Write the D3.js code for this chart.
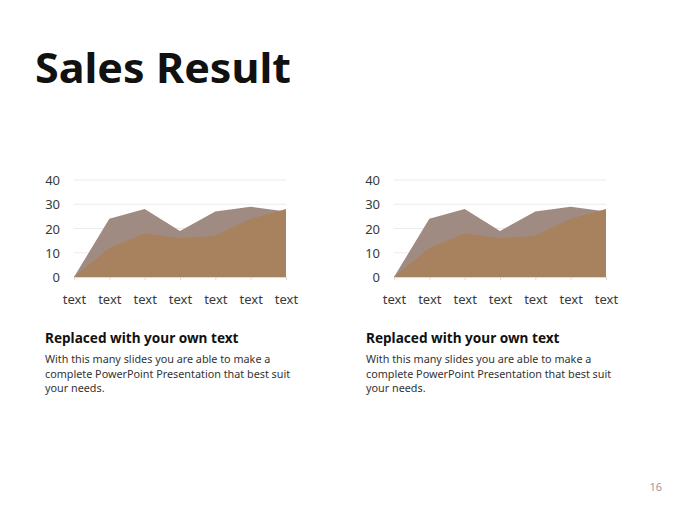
<!DOCTYPE html>
<html>
<head>
<meta charset="utf-8">
<script src="https://cdn.jsdelivr.net/npm/d3@7/dist/d3.min.js"></script>
<title>Sales Result</title>
<style>
    body { margin: 0; background: #fff; font-family: "Noto Sans", "Open Sans", sans-serif; }
    svg { display: block; }
    .axis text { font-family: "Noto Sans", sans-serif; font-size: 13px; fill: #3a3a3a; }
</style>
</head>
<body>
<svg width="680" height="510"></svg>
<script>
    const categories = ["text", "text", "text", "text", "text", "text", "text"];
    const seriesBack = [0, 24, 28, 19, 27, 29, 27];
    const seriesFront = [0, 12, 18, 16, 17, 24, 28];
    const yTicks = [0, 10, 20, 30, 40];

    const svg = d3.select("svg");
    const w = 212;
    const h = 97;

    svg.append("text")
        .attr("x", 35).attr("y", 83)
        .attr("font-size", 42).attr("font-weight", 700)
        .attr("textLength", 256).attr("lengthAdjust", "spacingAndGlyphs")
        .attr("fill", "#111")
        .text("Sales Result");

    const x = d3.scalePoint().domain(d3.range(categories.length)).range([0, w]);
    const y = d3.scaleLinear().domain([0, 40]).range([h, 0]);

    const area = d3.area()
        .x((d, i) => x(i))
        .y0(h)
        .y1(d => y(d));

    function drawChart(left, top, textLeft) {
        const g = svg.append("g").attr("transform", `translate(${left},${top})`);

        // grid
        g.selectAll("line.grid").data(yTicks.slice(1)).enter()
            .append("line")
            .attr("x1", 0).attr("x2", w)
            .attr("y1", d => y(d)).attr("y2", d => y(d))
            .attr("stroke", "#ececec").attr("stroke-width", 1);

        g.append("path").datum(seriesBack).attr("d", area).attr("fill", "#9f8b81");
        g.append("path").datum(seriesFront).attr("d", area).attr("fill", "#a8825f");

        const yAxis = g.append("g").attr("class", "axis")
            .attr("transform", "translate(-14,0)")
            .call(d3.axisLeft(y).tickValues(yTicks).tickSize(0).tickPadding(0));
        yAxis.select(".domain").remove();
        yAxis.selectAll("text").attr("dy", "0.35em");

        const xAxis = g.append("g").attr("class", "axis")
            .attr("transform", `translate(0,${h})`)
            .call(d3.axisBottom(x).tickSize(3).tickPadding(15).tickFormat(i => categories[i]));
        xAxis.select(".domain").attr("stroke", "#d9d9d9");
        xAxis.selectAll(".tick line").attr("stroke", "#d9d9d9");

        const t = svg.append("g").attr("transform", `translate(${textLeft},0)`);
        t.append("text").attr("x", 0).attr("y", 343)
            .attr("font-size", 13.6).attr("font-weight", 700).attr("fill", "#111")
            .text("Replaced with your own text");
        const lines = ["With this many slides you are able to make a",
                       "complete PowerPoint Presentation that best suit",
                       "your needs."];
        t.selectAll("text.body").data(lines).enter().append("text")
            .attr("x", 0).attr("y", (d, i) => 363 + i * 14.5)
            .attr("font-size", 10.8).attr("fill", "#333")
            .text(d => d);
    }

    drawChart(74, 180, 45);
    drawChart(394, 180, 366);

    svg.append("text").attr("x", 662).attr("y", 491)
        .attr("text-anchor", "end")
        .attr("font-size", 11).attr("fill", "#9a9a9a")
        .text("16");
</script>
</body>
</html>
